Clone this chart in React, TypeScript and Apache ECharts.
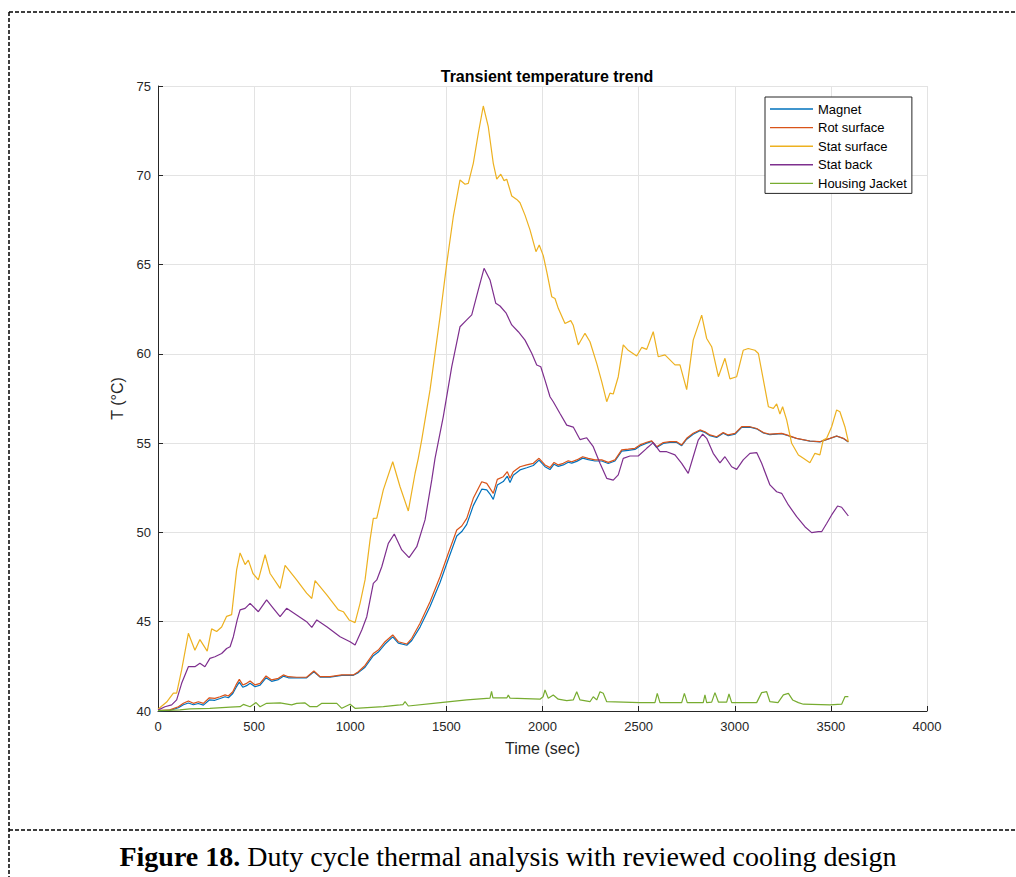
import { useEffect, useRef } from "react";
import * as echarts from "echarts";

// ---- data: [time (sec), temperature (°C)] ----
const seriesNames = ["Magnet", "Rot surface", "Stat surface", "Stat back", "Housing Jacket"];
const seriesColors = ["#0072BD", "#D95319", "#EDB120", "#7E2F8E", "#77AC30"];
const xTicks = { min: 0, max: 4000, interval: 500 };
const yTicks = { min: 40, max: 75, interval: 5 };

const magnet: [number, number][] = [
  [0, 40.0], [61, 40.03], [106, 40.18], [132, 40.35], [158, 40.45], [184, 40.35], [210, 40.42], [236, 40.33],
  [267, 40.62], [296, 40.6], [323, 40.7], [349, 40.8], [366, 40.74], [389, 40.98], [406, 41.32], [423, 41.62],
  [441, 41.33], [461, 41.42], [479, 41.56], [505, 41.36], [531, 41.45], [562, 41.86], [591, 41.66], [626, 41.76],
  [652, 41.95], [678, 41.86], [721, 41.85], [773, 41.86], [811, 42.2], [843, 41.9], [895, 41.9], [956, 42.0],
  [1016, 42.0], [1042, 42.15], [1077, 42.45], [1120, 43.1], [1146, 43.3], [1181, 43.75], [1221, 44.15], [1250, 43.8],
  [1294, 43.68], [1320, 43.95], [1363, 44.7], [1415, 45.85], [1467, 47.2], [1510, 48.5], [1554, 49.8], [1580, 50.05],
  [1606, 50.45], [1640, 51.5], [1684, 52.42], [1710, 52.38], [1727, 52.15], [1744, 51.85], [1765, 52.65], [1796, 52.85],
  [1817, 53.15], [1831, 52.8], [1848, 53.2], [1883, 53.5], [1918, 53.62], [1952, 53.75], [1982, 54.05], [2013, 53.68],
  [2039, 53.52], [2060, 53.82], [2082, 53.7], [2108, 53.78], [2134, 53.93], [2152, 53.88], [2178, 53.98], [2209, 54.16],
  [2238, 54.08], [2273, 54.0], [2308, 54.0], [2342, 53.86], [2377, 54.0], [2412, 54.55], [2446, 54.6], [2481, 54.65],
  [2507, 54.84], [2542, 55.0], [2568, 55.1], [2594, 54.75], [2628, 54.98], [2663, 55.04], [2698, 55.04], [2724, 54.86],
  [2750, 55.22], [2784, 55.5], [2819, 55.7], [2845, 55.6], [2871, 55.42], [2906, 55.32], [2940, 55.55], [2966, 55.42],
  [3001, 55.5], [3036, 55.88], [3079, 55.9], [3114, 55.8], [3149, 55.57], [3183, 55.48], [3244, 55.53], [3270, 55.44],
  [3322, 55.26], [3391, 55.11], [3443, 55.07], [3495, 55.26], [3530, 55.39], [3565, 55.26], [3591, 55.07],
];

const rotSurface: [number, number][] = [
  [0, 40.02], [61, 40.06], [106, 40.24], [132, 40.43], [158, 40.56], [184, 40.43], [210, 40.52], [236, 40.43],
  [267, 40.74], [296, 40.71], [323, 40.8], [349, 40.9], [366, 40.84], [389, 41.08], [406, 41.46], [423, 41.77],
  [441, 41.46], [461, 41.55], [479, 41.68], [505, 41.46], [531, 41.55], [562, 41.96], [591, 41.74], [626, 41.83],
  [652, 42.02], [678, 41.92], [721, 41.89], [773, 41.89], [811, 42.24], [843, 41.92], [895, 41.92], [956, 42.02],
  [1016, 42.02], [1042, 42.2], [1077, 42.55], [1120, 43.22], [1146, 43.41], [1181, 43.88], [1221, 44.26], [1250, 43.88],
  [1294, 43.75], [1320, 44.07], [1363, 44.91], [1415, 46.12], [1467, 47.52], [1510, 48.83], [1554, 50.14], [1580, 50.36],
  [1606, 50.79], [1640, 51.91], [1684, 52.84], [1710, 52.75], [1727, 52.47], [1744, 52.19], [1765, 52.97], [1796, 53.12],
  [1817, 53.4], [1831, 53.03], [1848, 53.4], [1883, 53.68], [1918, 53.78], [1952, 53.87], [1982, 54.15], [2013, 53.78],
  [2039, 53.63], [2060, 53.92], [2082, 53.78], [2108, 53.87], [2134, 54.01], [2152, 53.96], [2178, 54.06], [2209, 54.24],
  [2238, 54.15], [2273, 54.06], [2308, 54.06], [2342, 53.92], [2377, 54.06], [2412, 54.62], [2446, 54.66], [2481, 54.71],
  [2507, 54.9], [2542, 55.05], [2568, 55.13], [2594, 54.8], [2628, 55.03], [2663, 55.08], [2698, 55.08], [2724, 54.9],
  [2750, 55.27], [2784, 55.55], [2819, 55.74], [2845, 55.64], [2871, 55.46], [2906, 55.36], [2940, 55.59], [2966, 55.46],
  [3001, 55.55], [3036, 55.92], [3079, 55.92], [3114, 55.82], [3149, 55.59], [3183, 55.5], [3244, 55.55], [3270, 55.46],
  [3322, 55.27], [3391, 55.12], [3443, 55.08], [3495, 55.27], [3530, 55.4], [3565, 55.27], [3591, 55.08],
];

const statSurface: [number, number][] = [
  [0, 40.1], [45, 40.5], [80, 41.0], [97, 41.0], [123, 42.3], [158, 44.35], [192, 43.4], [218, 44.0],
  [256, 43.35], [279, 44.6], [305, 44.45], [331, 44.7], [357, 45.3], [383, 45.4], [409, 47.9], [427, 48.85],
  [453, 48.2], [470, 48.45], [494, 47.7], [522, 47.34], [557, 48.75], [583, 47.7], [635, 46.87], [661, 48.15],
  [721, 47.34], [773, 46.6], [800, 46.3], [817, 47.3], [878, 46.5], [938, 45.66], [964, 45.56], [994, 45.1],
  [1025, 44.95], [1051, 46.03], [1077, 47.34], [1103, 49.58], [1120, 50.79], [1138, 50.8], [1172, 52.38], [1221, 53.96],
  [1259, 52.56], [1302, 51.2], [1337, 53.3], [1354, 54.15], [1372, 55.2], [1415, 57.98], [1467, 62.08], [1502, 65.07],
  [1536, 67.68], [1571, 69.74], [1597, 69.5], [1614, 69.55], [1640, 70.67], [1666, 72.35], [1692, 73.88], [1718, 72.72],
  [1744, 70.67], [1762, 69.78], [1783, 70.06], [1800, 69.7], [1814, 69.78], [1840, 68.84], [1866, 68.65], [1883, 68.46],
  [1909, 67.77], [1935, 66.94], [1966, 65.72], [1983, 66.1], [2004, 65.5], [2022, 64.6], [2048, 63.2], [2065, 63.1],
  [2082, 62.55], [2117, 61.7], [2147, 61.86], [2160, 61.6], [2186, 60.5], [2221, 61.15], [2247, 60.68], [2282, 59.47],
  [2308, 58.44], [2334, 57.32], [2351, 57.8], [2368, 57.75], [2394, 58.72], [2420, 60.5], [2446, 60.2], [2490, 59.88],
  [2516, 60.36], [2542, 60.25], [2576, 61.24], [2602, 59.84], [2637, 59.94], [2689, 59.38], [2715, 59.38], [2750, 58.0],
  [2784, 60.77], [2828, 62.17], [2854, 60.86], [2880, 60.4], [2915, 58.72], [2949, 59.75], [2975, 58.6], [3010, 58.72],
  [3044, 60.2], [3070, 60.3], [3105, 60.2], [3123, 60.02], [3149, 58.53], [3175, 57.04], [3201, 56.95], [3218, 57.2],
  [3235, 56.63], [3249, 57.04], [3270, 56.3], [3296, 54.99], [3331, 54.34], [3357, 54.15], [3391, 53.9], [3417, 54.43],
  [3443, 54.34], [3460, 55.17], [3478, 55.27], [3504, 55.92], [3530, 56.86], [3547, 56.76], [3573, 55.92], [3591, 55.08],
];

const statBack: [number, number][] = [
  [0, 40.05], [36, 40.24], [71, 40.34], [97, 40.62], [123, 41.55], [158, 42.48], [192, 42.48], [218, 42.67],
  [244, 42.48], [270, 42.95], [296, 43.04], [331, 43.22], [357, 43.5], [375, 43.6], [392, 44.16], [412, 45.1],
  [427, 45.66], [453, 45.75], [479, 46.03], [522, 45.56], [565, 46.22], [600, 45.75], [635, 45.28], [669, 45.75],
  [721, 45.38], [773, 45.0], [800, 44.68], [826, 45.1], [878, 44.72], [947, 44.16], [999, 43.88], [1025, 43.7],
  [1060, 44.54], [1086, 45.28], [1103, 46.22], [1120, 47.15], [1138, 47.34], [1164, 48.08], [1198, 49.39], [1229, 49.91],
  [1268, 49.02], [1306, 48.59], [1346, 49.2], [1389, 50.7], [1424, 52.94], [1441, 54.15], [1484, 56.48], [1528, 59.28],
  [1571, 61.52], [1606, 61.9], [1632, 62.18], [1666, 63.58], [1696, 64.79], [1727, 64.14], [1757, 62.83], [1779, 62.68],
  [1810, 62.3], [1840, 61.62], [1874, 61.24], [1909, 60.77], [1944, 60.03], [1970, 59.38], [1991, 59.28], [2013, 58.53],
  [2039, 57.6], [2056, 57.32], [2091, 56.66], [2126, 56.01], [2160, 55.9], [2195, 55.2], [2230, 55.3], [2264, 54.8],
  [2299, 53.87], [2334, 53.03], [2368, 52.93], [2394, 53.22], [2420, 54.15], [2455, 54.28], [2498, 54.28], [2542, 54.71],
  [2576, 55.03], [2611, 54.52], [2646, 54.52], [2689, 54.34], [2724, 53.87], [2758, 53.31], [2784, 54.24], [2810, 55.17],
  [2833, 55.5], [2854, 55.27], [2888, 54.43], [2923, 53.9], [2949, 54.24], [2984, 53.68], [3010, 53.53], [3044, 54.06],
  [3079, 54.43], [3114, 54.47], [3140, 53.87], [3183, 52.66], [3218, 52.28], [3244, 52.19], [3279, 51.54], [3322, 50.88],
  [3365, 50.32], [3400, 49.99], [3435, 50.04], [3452, 50.04], [3478, 50.5], [3504, 50.98], [3535, 51.48], [3556, 51.41],
  [3591, 50.92],
];

const housingJacket: [number, number][] = [
  [0, 40.02], [114, 40.06], [166, 40.12], [270, 40.15], [375, 40.22], [427, 40.24], [444, 40.37], [479, 40.24],
  [510, 40.47], [531, 40.24], [565, 40.43], [635, 40.45], [695, 40.34], [721, 40.43], [765, 40.45], [791, 40.24],
  [826, 40.24], [852, 40.43], [930, 40.43], [956, 40.15], [999, 40.38], [1025, 40.15], [1172, 40.24], [1259, 40.34],
  [1274, 40.36], [1285, 40.52], [1302, 40.28], [1432, 40.43], [1606, 40.62], [1727, 40.72], [1735, 41.1], [1742, 40.74],
  [1815, 40.74], [1822, 40.9], [1831, 40.72], [1987, 40.66], [2003, 40.8], [2013, 41.18], [2030, 40.71], [2056, 40.9],
  [2082, 40.66], [2126, 40.58], [2160, 40.62], [2178, 41.08], [2195, 40.62], [2247, 40.52], [2264, 40.8], [2282, 40.62],
  [2299, 41.08], [2316, 40.99], [2334, 40.52], [2507, 40.47], [2585, 40.47], [2597, 40.99], [2611, 40.47], [2724, 40.47],
  [2738, 40.99], [2753, 40.47], [2836, 40.47], [2845, 40.9], [2854, 40.47], [2880, 40.5], [2897, 41.03], [2915, 40.5],
  [2958, 40.5], [2970, 40.95], [2984, 40.47], [3114, 40.47], [3140, 41.03], [3166, 41.08], [3183, 40.52], [3225, 40.47],
  [3253, 40.9], [3279, 40.99], [3301, 40.62], [3331, 40.47], [3357, 40.38], [3495, 40.34], [3556, 40.38], [3573, 40.8],
  [3591, 40.8],
];

const allSeries = [magnet, rotSurface, statSurface, statBack, housingJacket];

const SANS = "'Liberation Sans', Arial, Helvetica, sans-serif";
const SERIF = "'Liberation Serif', 'Times New Roman', serif";

export default function App() {
  const ref = useRef<HTMLDivElement>(null);

  useEffect(() => {
    if (!ref.current) return;
    const chart = echarts.init(ref.current, null, { renderer: "svg" });
    const axisColor = "#262626";
    const gridColor = "#e3e3e3";
    chart.setOption({
      animation: false,
      backgroundColor: "#ffffff",
      title: {
        text: "Transient temperature trend",
        left: 542,
        textAlign: "center",
        top: 63,
        textStyle: { fontFamily: SANS, fontSize: 16, fontWeight: "bold", color: "#000" },
      },
      legend: {
        data: seriesNames,
        orient: "vertical",
        left: 765,
        top: 97,
        icon: "rect",
        itemWidth: 43,
        itemHeight: 1.4,
        itemGap: 4.6,
        padding: [5, 5, 3, 5],
        backgroundColor: "#ffffff",
        borderColor: axisColor,
        borderWidth: 1,
        borderRadius: 0,
        textStyle: { fontFamily: SANS, fontSize: 13, color: "#000", lineHeight: 14 },
      },
      grid: {
        left: 158,
        top: 86,
        width: 769,
        height: 625,
        containLabel: false,
        outerBoundsMode: "none",
      },
      xAxis: {
        type: "value",
        min: xTicks.min,
        max: xTicks.max,
        interval: xTicks.interval,
        name: "Time (sec)",
        nameLocation: "middle",
        nameGap: 29,
        nameTextStyle: { fontFamily: SANS, fontSize: 16, color: axisColor },
        axisLine: { show: true, onZero: false, lineStyle: { color: axisColor, width: 1 } },
        axisTick: { show: true, inside: true, length: 5, lineStyle: { color: axisColor } },
        axisLabel: {
          fontFamily: SANS,
          fontSize: 13,
          color: axisColor,
          margin: 9,
          formatter: (v: number) => String(v),
        },
        splitLine: { show: true, lineStyle: { color: gridColor, width: 1 } },
      },
      yAxis: {
        type: "value",
        min: yTicks.min,
        max: yTicks.max,
        interval: yTicks.interval,
        name: "T (°C)",
        nameLocation: "middle",
        nameGap: 30,
        nameTextStyle: { fontFamily: SANS, fontSize: 16, color: axisColor },
        axisLine: { show: true, onZero: false, lineStyle: { color: axisColor, width: 1 } },
        axisTick: { show: true, inside: true, length: 5, lineStyle: { color: axisColor } },
        axisLabel: {
          fontFamily: SANS,
          fontSize: 13,
          color: axisColor,
          margin: 7,
          formatter: (v: number) => String(v),
        },
        splitLine: { show: true, lineStyle: { color: gridColor, width: 1 } },
      },
      series: allSeries.map((d, i) => ({
        name: seriesNames[i],
        type: "line",
        data: d,
        symbol: "none",
        showSymbol: false,
        color: seriesColors[i],
        lineStyle: { color: seriesColors[i], width: 1.2 },
        z: 2 + i,
      })),
      graphic: [
        {
          type: "line",
          shape: { x1: 9, y1: 12, x2: 1016, y2: 12 },
          style: { stroke: "#000", lineWidth: 1.5, lineDash: [4, 2] },
        },
        {
          type: "line",
          shape: { x1: 9, y1: 12, x2: 9, y2: 877 },
          style: { stroke: "#000", lineWidth: 1.5, lineDash: [4, 2] },
        },
        {
          type: "line",
          shape: { x1: 9, y1: 830, x2: 1016, y2: 830 },
          style: { stroke: "#000", lineWidth: 1.5, lineDash: [4, 2] },
        },
        {
          type: "text",
          x: 508,
          y: 856,
          style: {
            text: "{b|Figure 18.} Duty cycle thermal analysis with reviewed cooling design",
            fontFamily: SERIF,
            fontSize: 28,
            fill: "#000",
            align: "center",
            verticalAlign: "middle",
            rich: { b: { fontFamily: SERIF, fontSize: 28, fontWeight: "bold", fill: "#000" } },
          },
        },
      ],
    });
    return () => chart.dispose();
  }, []);

  return (
    <div style={{ position: "absolute", left: 0, top: 0, width: 1016, height: 877, background: "#fff" }}>
      <div ref={ref} style={{ width: 1016, height: 877 }} />
    </div>
  );
}
